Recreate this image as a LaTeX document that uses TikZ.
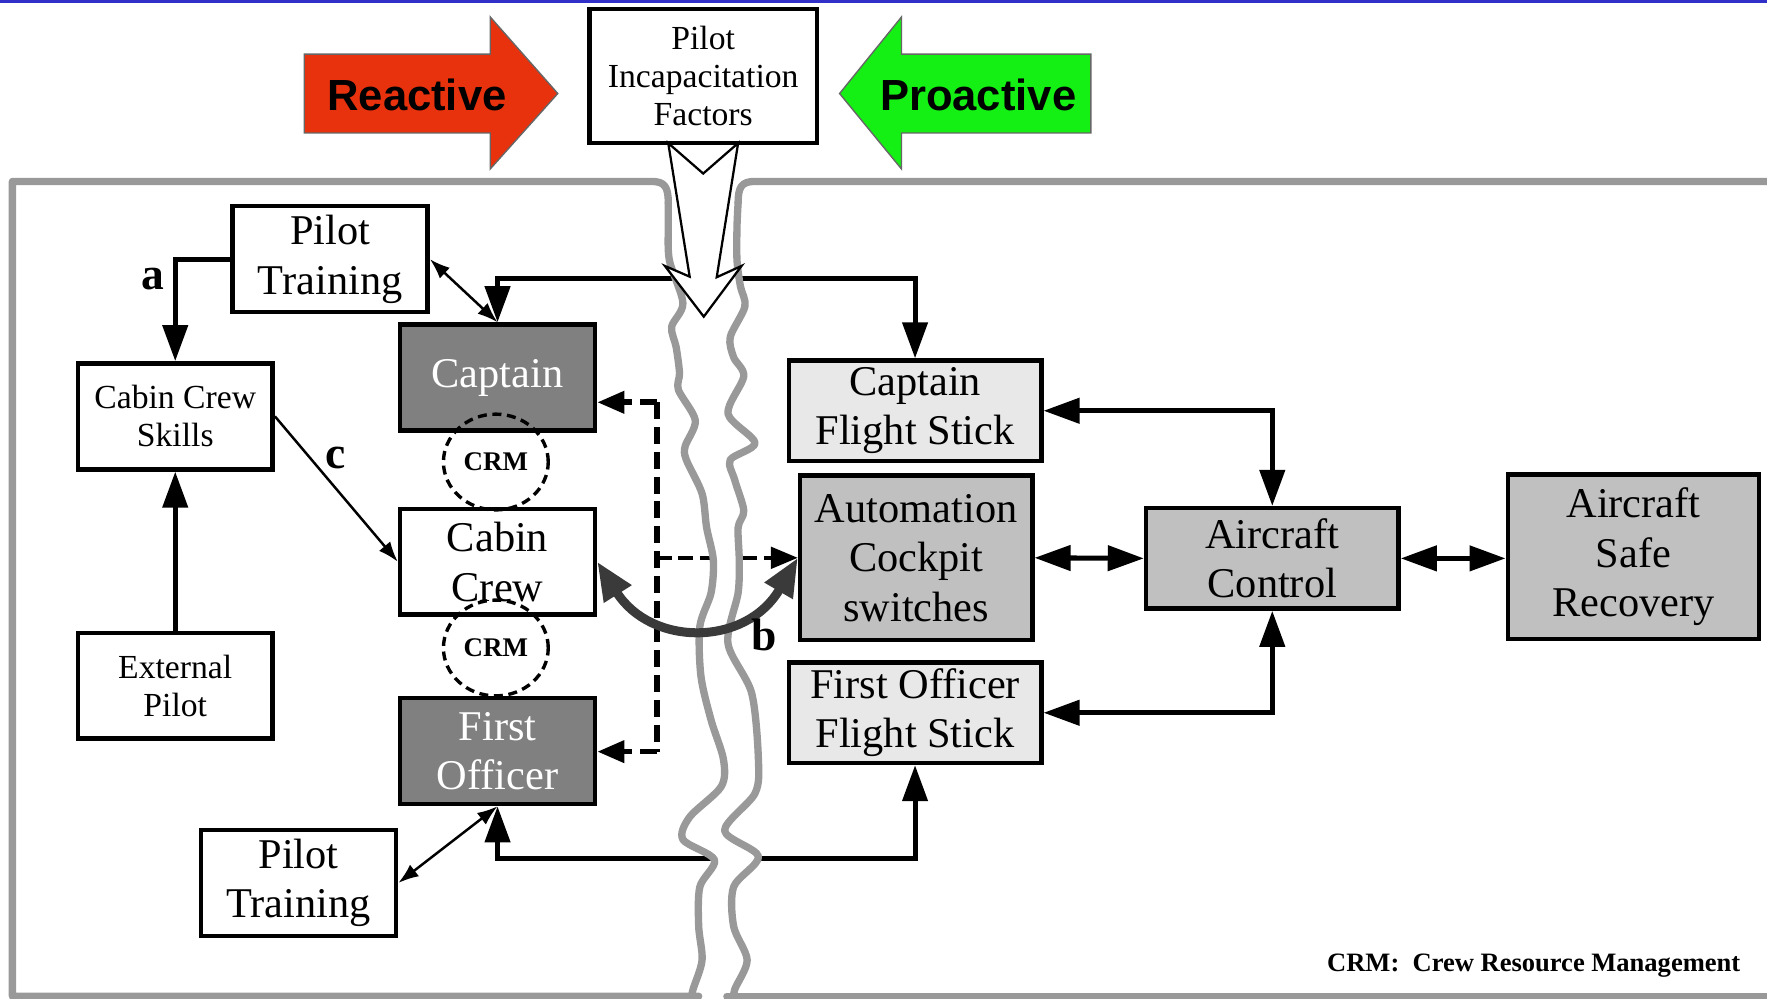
\documentclass[tikz,border=0pt]{standalone}
\usepackage{fontspec}
\setmainfont{Liberation Serif}
\newfontfamily\arrowfont{Liberation Sans}
\usepackage{xcolor}
\usetikzlibrary{arrows.meta}
\usetikzlibrary{shapes.geometric}

\definecolor{capgray}{HTML}{808080}
\definecolor{stickgray}{HTML}{E8E8E8}
\definecolor{ctrlgray}{HTML}{C0C0C0}
\definecolor{framegray}{HTML}{999999}
\definecolor{curvegray}{HTML}{3A3A3A}
\definecolor{reactred}{HTML}{E8320E}
\definecolor{proactgreen}{HTML}{14F014}
\definecolor{topblue}{HTML}{3030C8}

\newcommand{\bigtxt}{\fontsize{10.7}{12.5}\selectfont}
\newcommand{\smalltxt}{\fontsize{8.5}{9.6}\selectfont}

\tikzset{
  bigtip/.tip={Triangle[length=3.2mm,width=2.2mm]},
  smalltip/.tip={Latex[length=1.8mm,width=1.3mm]},
  dashtip/.tip={Triangle[length=2.4mm,width=1.9mm]},
  curvetip/.tip={Triangle[length=3.4mm,width=2.7mm]},
  box/.style={draw, line width=0.4mm, align=center, inner sep=0pt,
    minimum width=17.3mm, minimum height=9.4mm, font=\bigtxt},
  smallbox/.style={box, font=\smalltxt},
  pilotbox/.style={box, fill=capgray, text=white},
  stickbox/.style={box, fill=stickgray, minimum width=22.4mm, minimum height=8.9mm},
  ctrlbox/.style={box, fill=ctrlgray},
  crm/.style={ellipse, draw, line width=0.3mm, dash pattern=on 0.8mm off 0.5mm,
    minimum width=9.3mm, minimum height=8.5mm, inner sep=0pt,
    font=\fontsize{6.8}{8}\selectfont\bfseries},
  link/.style={line width=0.45mm},
  thinlink/.style={line width=0.22mm},
  dashlink/.style={line width=0.5mm, dash pattern=on 1.5mm off 0.7mm},
  dashthin/.style={line width=0.35mm, dash pattern=on 1.3mm off 0.6mm},
  lbl/.style={font=\fontsize{11.5}{13}\selectfont\bfseries, inner sep=0pt},
  frame/.style={draw=framegray, line width=0.65mm, line cap=round, line join=round},
  bigarrow/.style={draw=black!60, line width=0.12mm},
  arrowtext/.style={font=\arrowfont\fontsize{11}{13}\selectfont\bfseries}
}

\begin{document}
\begin{tikzpicture}[x=0.1mm,y=-0.1mm]
  \useasboundingbox (0,0) rectangle (1568,886);
  \clip (0,0) rectangle (1568,886);
  \fill[white] (0,0) rectangle (1568,886);
  \fill[topblue] (0,0) rectangle (1568,3);

  % reactive / proactive
  \path[bigarrow, fill=reactred] (270,48)--(435,48)--(435,15)--(495,83)--(435,150)--(435,118)--(270,118)--cycle;
  \path[bigarrow, fill=proactgreen] (968,48)--(800,48)--(800,15)--(745,83)--(800,150)--(800,118)--(968,118)--cycle;
  \node[arrowtext] (reactive) at (370,84) {Reactive};
  \node[arrowtext] (proactive) at (868,84) {Proactive};
  \node[smallbox, minimum width=20.2mm, minimum height=11.9mm] (pif) at (624,67.5) {Pilot\\Incapacitation\\Factors};

  % crew side
  \node[box] (pt1) at (293,230) {Pilot\\Training};
  \node[smallbox] (ccs) at (155.5,369.5) {Cabin Crew\\Skills};
  \node[smallbox] (ext) at (155.5,608.5) {External\\Pilot};
  \node[pilotbox] (cap) at (441.5,335) {Captain};
  \node[box] (cab) at (441.5,498.5) {Cabin\\Crew};
  \node[pilotbox] (fo) at (441.5,666.5) {First\\Officer};
  \node[box] (pt2) at (265,783.5) {Pilot\\Training};

  % aircraft side
  \node[stickbox] (cfs) at (812,364.5) {Captain\\Flight Stick};
  \node[ctrlbox, minimum width=20.6mm, minimum height=14.6mm] (acs) at (813,495) {Automation\\Cockpit\\switches};
  \node[stickbox] (fofs) at (812,632.5) {First Officer\\Flight Stick};
  \node[ctrlbox, minimum width=22.4mm, minimum height=8.9mm] (ac) at (1129,495.5) {Aircraft\\Control};
  \node[ctrlbox, minimum width=22.3mm, minimum height=14.6mm] (asr) at (1449.5,494) {Aircraft\\Safe\\Recovery};

  \coordinate (bustop) at (624,247);
  \coordinate (busbot) at (624,762);
  \coordinate (dtop) at (583,357);
  \coordinate (dbot) at (583,667);

  \draw[link, -{bigtip}] (pt1.west) -| (ccs.north);
  \draw[link, -{bigtip}] (ext.north) -- (ccs.south);
  \draw[thinlink, -{smalltip}] (ccs.east) -- (cab.west);
  \draw[thinlink, {smalltip}-{smalltip}] (pt1.east) -- (cap.north);
  \draw[thinlink, {smalltip}-{smalltip}] (pt2.east) -- (fo.south);
  \draw[link, {bigtip}-{bigtip}] (cap.north) |- (bustop) -| (cfs.north);
  \draw[link, {bigtip}-{bigtip}] (fo.south) |- (busbot) -| (fofs.south);
  \draw[link, {bigtip}-{bigtip}] (cfs.east) -| (ac.north);
  \draw[link, {bigtip}-{bigtip}] (fofs.east) -| (ac.south);
  \draw[link, {bigtip}-{bigtip}] (acs.east) -- (ac.west);
  \draw[link, {bigtip}-{bigtip}] (ac.east) -- (ac.east -| asr.west);

  \draw[dashlink] (dtop) -- (dbot);
  \draw[dashlink, -{dashtip}] (dtop) -- (dtop -| cap.east);
  \draw[dashlink, -{dashtip}] (dbot) -- (dbot -| fo.east);
  \draw[dashthin, -{dashtip}] (dtop |- acs.west) -- (acs.west);

  % the break
  \fill[white] plot[smooth,tension=.5] coordinates {(593,160) (593,180) (593,201) (594,231) (606,269) (596,290) (600,308) (603,331) (602,346) (617,373) (608,396) (609,408) (623,438) (627,468) (633,497) (631,526) (621,556) (622,600) (631,639) (642,674) (640,698) (612,725) (606,745) (634,763) (621,787) (620,822) (623,852) (615,878) (612,892)}
    -- plot[smooth,tension=.5] coordinates {(650,892) (652,878) (663,852) (651,822) (651,787) (673,760) (643,737) (670,704) (673,674) (667,615) (646,571) (655,526) (656,497) (655,468) (660,453) (652,426) (648,408) (670,393) (646,367) (660,334) (651,317) (648,299) (661,272) (657,254) (654,231) (654,201) (655,180) (655,160)} -- cycle;
  \draw[frame] (620,884) -- (11,884) -- (11,161) -- (578,161) .. controls (590,161) and (593,166) .. (593,180);
  \draw[frame] (645,884) -- (1600,884);
  \draw[frame] (1600,161) -- (670,161) .. controls (658,161) and (655,166) .. (655,180);
  \draw[frame] plot[smooth,tension=.5] coordinates {(593,180) (593,201) (594,231) (606,269) (596,290) (600,308) (603,331) (602,346) (617,373) (608,396) (609,408) (623,438) (627,468) (633,497) (631,526) (621,556) (622,600) (631,639) (642,674) (640,698) (612,725) (606,745) (634,763) (621,787) (620,822) (623,852) (615,878) (612,892)};
  \draw[frame] plot[smooth,tension=.5] coordinates {(655,180) (654,201) (654,231) (657,254) (661,272) (648,299) (651,317) (660,334) (646,367) (670,393) (648,408) (652,426) (660,453) (655,468) (656,497) (655,526) (646,571) (667,615) (673,674) (670,704) (643,737) (673,760) (651,787) (651,822) (663,852) (652,878) (650,892)};

  % hollow arrow from the factors
  \draw[fill=white, line width=0.2mm, line join=miter] (593,127) -- (612,245.5) -- (590,236) -- (624.5,281) -- (658,236) -- (636,246) -- (655,127) -- (624,154) -- cycle;

  \node[crm] (crm1) at (440,410) {CRM};
  \node[crm] (crm2) at (440,575) {CRM};

  \draw[curvegray, line width=0.8mm, {curvetip}-{curvetip}] (cab.east) .. controls (578,574) and (662,574) .. (acs.west);

  \node[lbl] (la) at (136,248) {a};
  \node[lbl] (lc) at (298,406) {c};
  \node[lbl] (lb) at (678,563) {b};
  \node[font=\fontsize{6.7}{8}\selectfont\bfseries, anchor=east, inner sep=0pt] (note) at (1545,857) {CRM:~~Crew Resource Management};
\end{tikzpicture}
\end{document}
